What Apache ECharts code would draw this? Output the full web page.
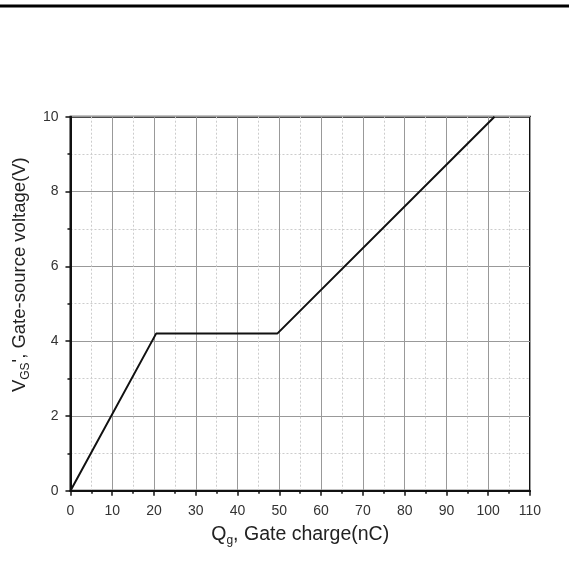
<!DOCTYPE html>
<html><head><meta charset="utf-8">
<script src="https://cdn.jsdelivr.net/npm/echarts@6/dist/echarts.min.js"></script>
<style>html,body{margin:0;padding:0;background:#fff}#c{width:569px;height:575px}</style>
</head><body><div id="c"></div>
<script>
const chargeNC = [0, 20.5, 49.5, 101.5];
const vgsV = [0, 4.2, 4.2, 10];
const xTicks = [0,10,20,30,40,50,60,70,80,90,100,110];
const yTicks = [0,2,4,6,8,10];

const chart = echarts.init(document.getElementById('c'));
const font = 'Liberation Sans, Arial, sans-serif';
function richName(sz) {
  return {
    a:{fontSize:sz, fontFamily:font, color:'#222', lineHeight:22},
    s:{fontSize:12, fontFamily:font, color:'#222', lineHeight:22, padding:[12,0,0,0]}
  };
}
chart.setOption({
  animation: false,
  graphic: [{type:'rect', shape:{x:0,y:4.5,width:569,height:3}, style:{fill:'#000'}}],
  grid: {left: 67.5, right: 39, top: 116.7, bottom: 84.3, show: true, borderColor: '#111', borderWidth: 2, backgroundColor: 'transparent'},
  xAxis: {
    type: 'value', min: 0, max: 110, interval: 10,
    name: '{a|Q}{s|g}{a|, Gate charge(nC)}', nameLocation: 'middle', nameGap: 28,
    nameTextStyle: {rich: richName(19.5)},
    axisLine: {show:true, lineStyle:{color:'#111', width:2}},
    axisTick: {show:true, inside:false, length:5, lineStyle:{color:'#111', width:1.5}},
    minorTick: {show:true, splitNumber:2, length:3, lineStyle:{color:'#111', width:1.5}},
    axisLabel: {fontSize:14, fontFamily:font, color:'#333', margin:13},
    splitLine: {show:true, lineStyle:{color:'#999', width:1}},
    minorSplitLine: {show:true, lineStyle:{color:'#ccc', width:1, type:[2,2]}}
  },
  yAxis: {
    type: 'value', min: 0, max: 10, interval: 2,
    name: '{a|V}{s|GS}{a|\', Gate-source voltage(V)}', nameLocation: 'middle', nameGap: 31,
    nameTextStyle: {rich: richName(18.5), padding:[0,0,0,58]},
    axisLine: {show:true, lineStyle:{color:'#111', width:2}},
    axisTick: {show:true, inside:false, length:5, lineStyle:{color:'#111', width:1.5}},
    minorTick: {show:true, splitNumber:2, length:3, lineStyle:{color:'#111', width:1.5}},
    axisLabel: {fontSize:14, fontFamily:font, color:'#333', margin:12},
    splitLine: {show:true, lineStyle:{color:'#999', width:1}},
    minorSplitLine: {show:true, lineStyle:{color:'#ccc', width:1, type:[2,2]}}
  },
  series: [{
    type: 'line', data: chargeNC.map((x,i)=>[x, vgsV[i]]), symbol: 'none',
    lineStyle: {color:'#111', width:2}, clip: false
  }]
});
</script></body></html>
